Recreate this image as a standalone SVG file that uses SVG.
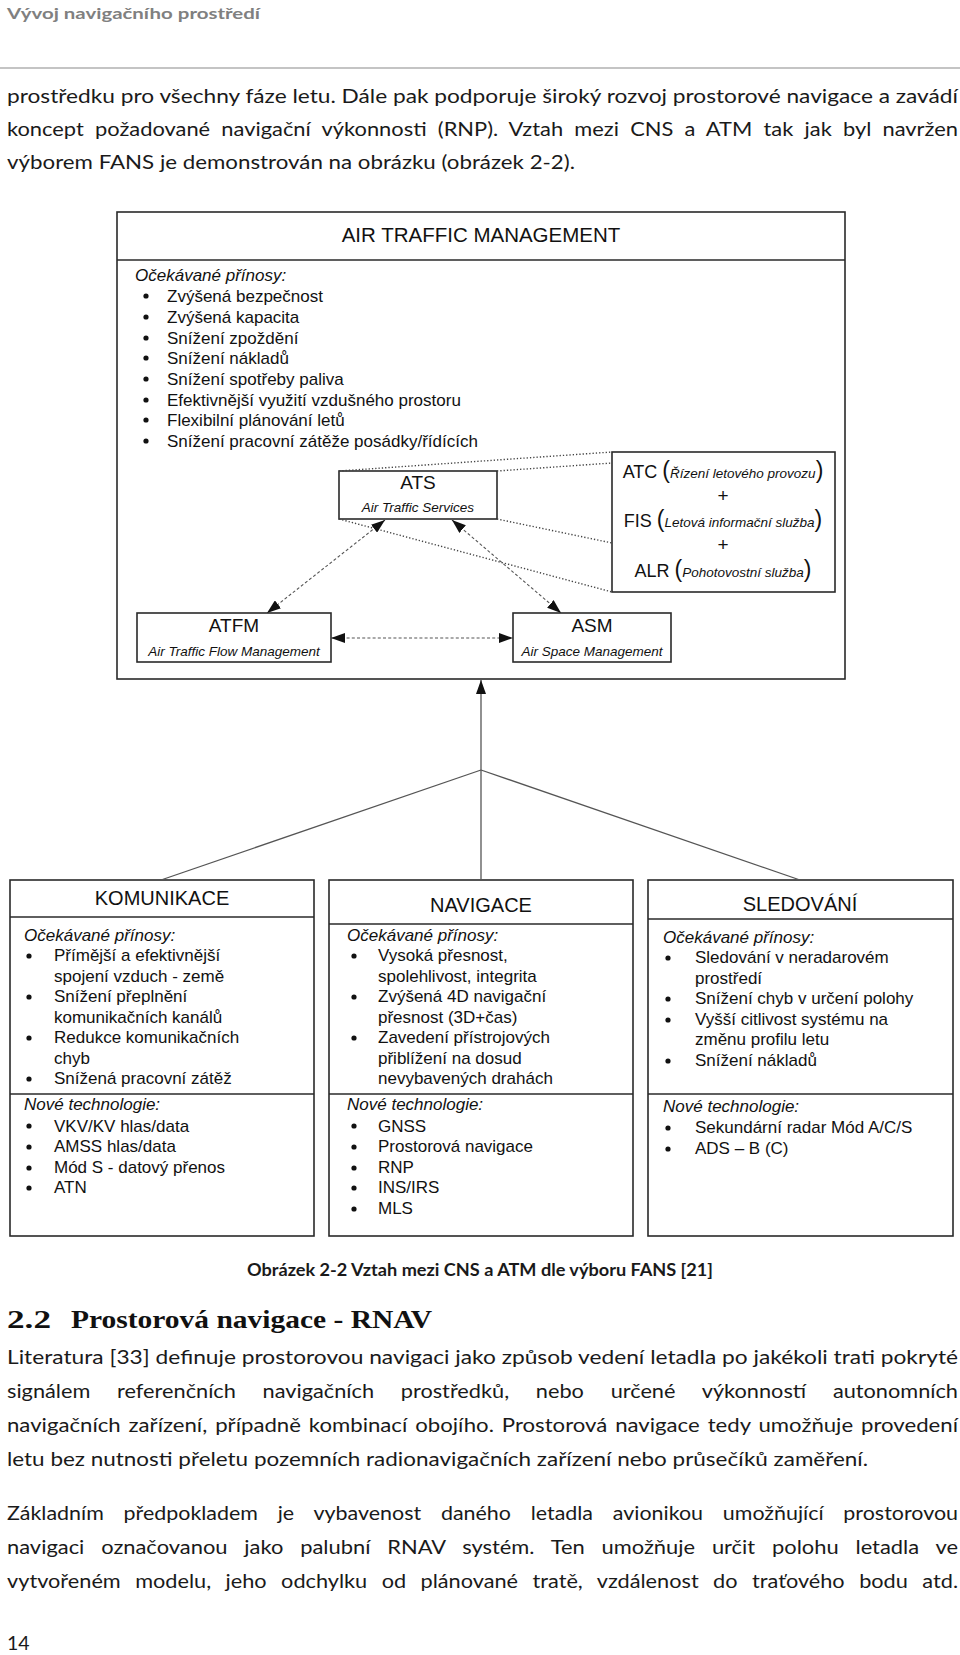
<svg xmlns="http://www.w3.org/2000/svg" width="960" height="1655" viewBox="0 0 960 1655">
<style>
.bg{fill:#fff}
.a{font-family:"Liberation Sans",Arial,sans-serif;fill:#111}
.s17{font-size:17px}
.s20{font-size:20px}
.it{font-style:italic}
.mid{text-anchor:middle}
.body{font-family:Lato,"Liberation Sans",sans-serif;font-size:19.5px;fill:#1a1a1a}
.box{fill:#fff;stroke:#2a2a2a;stroke-width:1.6}
.div{stroke:#2a2a2a;stroke-width:1.6}
.dash{stroke:#555;stroke-width:1.1;stroke-dasharray:3 2.2;fill:none}
.dot{stroke:#444;stroke-width:1.4;stroke-dasharray:1.3 2;fill:none}
.solid{stroke:#555;stroke-width:1.3;fill:none}
.bul{fill:#111}
</style>
<defs>
<marker id="ah" viewBox="0 0 14 10" refX="14" refY="5" markerWidth="14" markerHeight="10" markerUnits="userSpaceOnUse" orient="auto-start-reverse"><path d="M0,0 L14,5 L0,10 z" fill="#111"/></marker>
</defs>
<rect class="bg" x="0" y="0" width="960" height="1655"/>

<g id="page-top">
<text x="7" y="19" font-family="Lato,'Liberation Sans',sans-serif" font-weight="bold" font-size="16" fill="#808080" textLength="253" lengthAdjust="spacingAndGlyphs">Vývoj navigačního prostředí</text>
<line x1="0" y1="68" x2="960" y2="68" stroke="#c4c4c4" stroke-width="2"/>
<text class="body" x="7" y="103" textLength="951" lengthAdjust="spacingAndGlyphs">prostředku pro všechny fáze letu. Dále pak podporuje široký rozvoj prostorové navigace a zavádí</text>
<text class="body" x="7" y="136" word-spacing="5" textLength="951" lengthAdjust="spacingAndGlyphs">koncept požadované navigační výkonnosti (RNP).  Vztah mezi CNS a ATM tak jak byl navržen</text>
<text class="body" x="7" y="169" textLength="568" lengthAdjust="spacingAndGlyphs">výborem FANS je demonstrován na obrázku (obrázek 2-2).</text>
</g>

<g id="atm">
<rect class="box" x="117" y="212" width="728" height="467"/>
<line class="div" x1="117" y1="260" x2="845" y2="260"/>
<text class="a mid" x="481" y="242" font-size="20.5">AIR TRAFFIC MANAGEMENT</text>
<text class="a s17 it" x="135" y="281">Očekávané přínosy:</text>
<g class="bul"><circle cx="146" cy="296" r="2.6"/><circle cx="146" cy="317" r="2.6"/><circle cx="146" cy="338" r="2.6"/><circle cx="146" cy="358" r="2.6"/><circle cx="146" cy="379" r="2.6"/><circle cx="146" cy="400" r="2.6"/><circle cx="146" cy="420" r="2.6"/><circle cx="146" cy="441" r="2.6"/></g>
<text class="a s17" x="167" y="302">Zvýšená bezpečnost</text>
<text class="a s17" x="167" y="323">Zvýšená kapacita</text>
<text class="a s17" x="167" y="344">Snížení zpoždění</text>
<text class="a s17" x="167" y="364">Snížení nákladů</text>
<text class="a s17" x="167" y="385">Snížení spotřeby paliva</text>
<text class="a s17" x="167" y="406">Efektivnější využití vzdušného prostoru</text>
<text class="a s17" x="167" y="426">Flexibilní plánování letů</text>
<text class="a s17" x="167" y="447">Snížení pracovní zátěže posádky/řídících</text>
</g>

<g id="ats">
<rect class="box" x="339" y="471" width="158" height="48"/>
<text class="a mid" x="418" y="489" font-size="19">ATS</text>
<text class="a it mid" x="418" y="512" font-size="13.5">Air Traffic Services</text>
</g>

<g id="atc-fis-alr">
<rect class="box" x="612" y="452" width="223" height="140"/>
<text class="a mid" x="723" y="478"><tspan font-size="18">ATC </tspan><tspan font-size="23">(</tspan><tspan font-size="13.5" font-style="italic">Řízení letového provozu</tspan><tspan font-size="23">)</tspan></text>
<text class="a mid" x="723" y="502" font-size="19">+</text>
<text class="a mid" x="723" y="527"><tspan font-size="18">FIS </tspan><tspan font-size="23">(</tspan><tspan font-size="13.5" font-style="italic">Letová informační služba</tspan><tspan font-size="23">)</tspan></text>
<text class="a mid" x="723" y="551" font-size="19">+</text>
<text class="a mid" x="723" y="577"><tspan font-size="18">ALR </tspan><tspan font-size="23">(</tspan><tspan font-size="13.5" font-style="italic">Pohotovostní služba</tspan><tspan font-size="23">)</tspan></text>
</g>

<g id="atfm">
<rect class="box" x="137" y="613" width="194" height="49"/>
<text class="a mid" x="234" y="632" font-size="19">ATFM</text>
<text class="a it mid" x="234" y="656" font-size="13.5">Air Traffic Flow Management</text>
</g>

<g id="asm">
<rect class="box" x="513" y="613" width="158" height="49"/>
<text class="a mid" x="592" y="632" font-size="19">ASM</text>
<text class="a it mid" x="592" y="656" font-size="13.5">Air Space Management</text>
</g>

<g id="komunikace">
<rect class="box" x="10" y="880" width="304" height="356"/>
<line class="div" x1="10" y1="917" x2="314" y2="917"/>
<line class="div" x1="10" y1="1094" x2="314" y2="1094"/>
<text class="a s20 mid" x="162" y="905">KOMUNIKACE</text>
<text class="a s17 it" x="24" y="941">Očekávané přínosy:</text>
<g class="bul"><circle cx="29" cy="956" r="2.6"/><circle cx="29" cy="997" r="2.6"/><circle cx="29" cy="1038" r="2.6"/><circle cx="29" cy="1079" r="2.6"/><circle cx="29" cy="1126" r="2.6"/><circle cx="29" cy="1147" r="2.6"/><circle cx="29" cy="1168" r="2.6"/><circle cx="29" cy="1188" r="2.6"/></g>
<text class="a s17" x="54" y="961">Přímější a efektivnější</text>
<text class="a s17" x="54" y="982">spojení vzduch - země</text>
<text class="a s17" x="54" y="1002">Snížení přeplnění</text>
<text class="a s17" x="54" y="1023">komunikačních kanálů</text>
<text class="a s17" x="54" y="1043">Redukce komunikačních</text>
<text class="a s17" x="54" y="1064">chyb</text>
<text class="a s17" x="54" y="1084">Snížená pracovní zátěž</text>
<text class="a s17 it" x="24" y="1110">Nové technologie:</text>
<text class="a s17" x="54" y="1132">VKV/KV hlas/data</text>
<text class="a s17" x="54" y="1152">AMSS hlas/data</text>
<text class="a s17" x="54" y="1173">Mód S - datový přenos</text>
<text class="a s17" x="54" y="1193">ATN</text>
</g>

<g id="navigace">
<rect class="box" x="329" y="880" width="304" height="356"/>
<line class="div" x1="329" y1="924" x2="633" y2="924"/>
<line class="div" x1="329" y1="1094" x2="633" y2="1094"/>
<text class="a s20 mid" x="481" y="912">NAVIGACE</text>
<text class="a s17 it" x="347" y="941">Očekávané přínosy:</text>
<g class="bul"><circle cx="354" cy="956" r="2.6"/><circle cx="354" cy="997" r="2.6"/><circle cx="354" cy="1038" r="2.6"/><circle cx="354" cy="1126" r="2.6"/><circle cx="354" cy="1147" r="2.6"/><circle cx="354" cy="1168" r="2.6"/><circle cx="354" cy="1188" r="2.6"/><circle cx="354" cy="1209" r="2.6"/></g>
<text class="a s17" x="378" y="961">Vysoká přesnost,</text>
<text class="a s17" x="378" y="982">spolehlivost, integrita</text>
<text class="a s17" x="378" y="1002">Zvýšená 4D navigační</text>
<text class="a s17" x="378" y="1023">přesnost (3D+čas)</text>
<text class="a s17" x="378" y="1043">Zavedení přístrojových</text>
<text class="a s17" x="378" y="1064">přiblížení na dosud</text>
<text class="a s17" x="378" y="1084">nevybavených drahách</text>
<text class="a s17 it" x="347" y="1110">Nové technologie:</text>
<text class="a s17" x="378" y="1132">GNSS</text>
<text class="a s17" x="378" y="1152">Prostorová navigace</text>
<text class="a s17" x="378" y="1173">RNP</text>
<text class="a s17" x="378" y="1193">INS/IRS</text>
<text class="a s17" x="378" y="1214">MLS</text>
</g>

<g id="sledovani">
<rect class="box" x="648" y="880" width="305" height="356"/>
<line class="div" x1="648" y1="919" x2="953" y2="919"/>
<line class="div" x1="648" y1="1094" x2="953" y2="1094"/>
<text class="a s20 mid" x="800" y="911">SLEDOVÁNÍ</text>
<text class="a s17 it" x="663" y="943">Očekávané přínosy:</text>
<g class="bul"><circle cx="668" cy="958" r="2.6"/><circle cx="668" cy="999" r="2.6"/><circle cx="668" cy="1020" r="2.6"/><circle cx="668" cy="1061" r="2.6"/><circle cx="668" cy="1128" r="2.6"/><circle cx="668" cy="1149" r="2.6"/></g>
<text class="a s17" x="695" y="963">Sledování v neradarovém</text>
<text class="a s17" x="695" y="984">prostředí</text>
<text class="a s17" x="695" y="1004">Snížení chyb v určení polohy</text>
<text class="a s17" x="695" y="1025">Vyšší citlivost systému na</text>
<text class="a s17" x="695" y="1045">změnu profilu letu</text>
<text class="a s17" x="695" y="1066">Snížení nákladů</text>
<text class="a s17 it" x="663" y="1112">Nové technologie:</text>
<text class="a s17" x="695" y="1133">Sekundární radar Mód A/C/S</text>
<text class="a s17" x="695" y="1154">ADS – B (C)</text>
</g>

<g id="connectors">
<path class="dot" d="M339,471 L612,452"/>
<path class="dot" d="M497,471 L612,463"/>
<path class="dot" d="M497,519 L612,543"/>
<path class="dot" d="M339,519 L612,592"/>
<path class="dash" d="M385,520 L267,613" marker-start="url(#ah)" marker-end="url(#ah)"/>
<path class="dash" d="M452,520 L561,613" marker-start="url(#ah)" marker-end="url(#ah)"/>
<path class="dash" d="M331,638 L513,638" marker-start="url(#ah)" marker-end="url(#ah)"/>
<path class="solid" d="M481,880 L481,680" marker-end="url(#ah)"/>
<path class="solid" d="M481,770 L161,880"/>
<path class="solid" d="M481,770 L800,880"/>
</g>

<g id="page-bottom">
<text x="480" y="1276" text-anchor="middle" font-family="Lato,'Liberation Sans',sans-serif" font-weight="bold" font-size="16.5" fill="#1a1a1a" textLength="466" lengthAdjust="spacingAndGlyphs">Obrázek 2-2 Vztah mezi CNS a ATM dle výboru FANS [21]</text>
<text x="7" y="1328" font-family="'Liberation Serif',serif" font-weight="bold" font-size="25" fill="#111" textLength="44" lengthAdjust="spacingAndGlyphs">2.2</text>
<text x="71" y="1328" font-family="'Liberation Serif',serif" font-weight="bold" font-size="25" fill="#111" textLength="361" lengthAdjust="spacingAndGlyphs">Prostorová navigace - RNAV</text>
<text class="body" x="7" y="1364" textLength="951" lengthAdjust="spacingAndGlyphs">Literatura [33] definuje prostorovou navigaci jako způsob vedení letadla po jakékoli trati pokryté</text>
<text class="body" x="7" y="1398" word-spacing="19" textLength="951" lengthAdjust="spacingAndGlyphs">signálem referenčních navigačních prostředků, nebo určené výkonností autonomních</text>
<text class="body" x="7" y="1432" word-spacing="2" textLength="951" lengthAdjust="spacingAndGlyphs">navigačních zařízení, případně kombinací obojího. Prostorová navigace tedy umožňuje provedení</text>
<text class="body" x="7" y="1466" textLength="861" lengthAdjust="spacingAndGlyphs">letu bez nutnosti přeletu pozemních radionavigačních zařízení nebo průsečíků zaměření.</text>
<text class="body" x="7" y="1520" word-spacing="13" textLength="951" lengthAdjust="spacingAndGlyphs">Základním předpokladem je vybavenost daného letadla avionikou umožňující prostorovou</text>
<text class="body" x="7" y="1554" word-spacing="10" textLength="951" lengthAdjust="spacingAndGlyphs">navigaci označovanou jako palubní RNAV systém. Ten umožňuje určit polohu letadla ve</text>
<text class="body" x="7" y="1588" word-spacing="8" textLength="951" lengthAdjust="spacingAndGlyphs">vytvořeném modelu, jeho odchylku od plánované tratě, vzdálenost do traťového bodu atd.</text>
<text class="body" x="7" y="1650">14</text>
</g>
</svg>
